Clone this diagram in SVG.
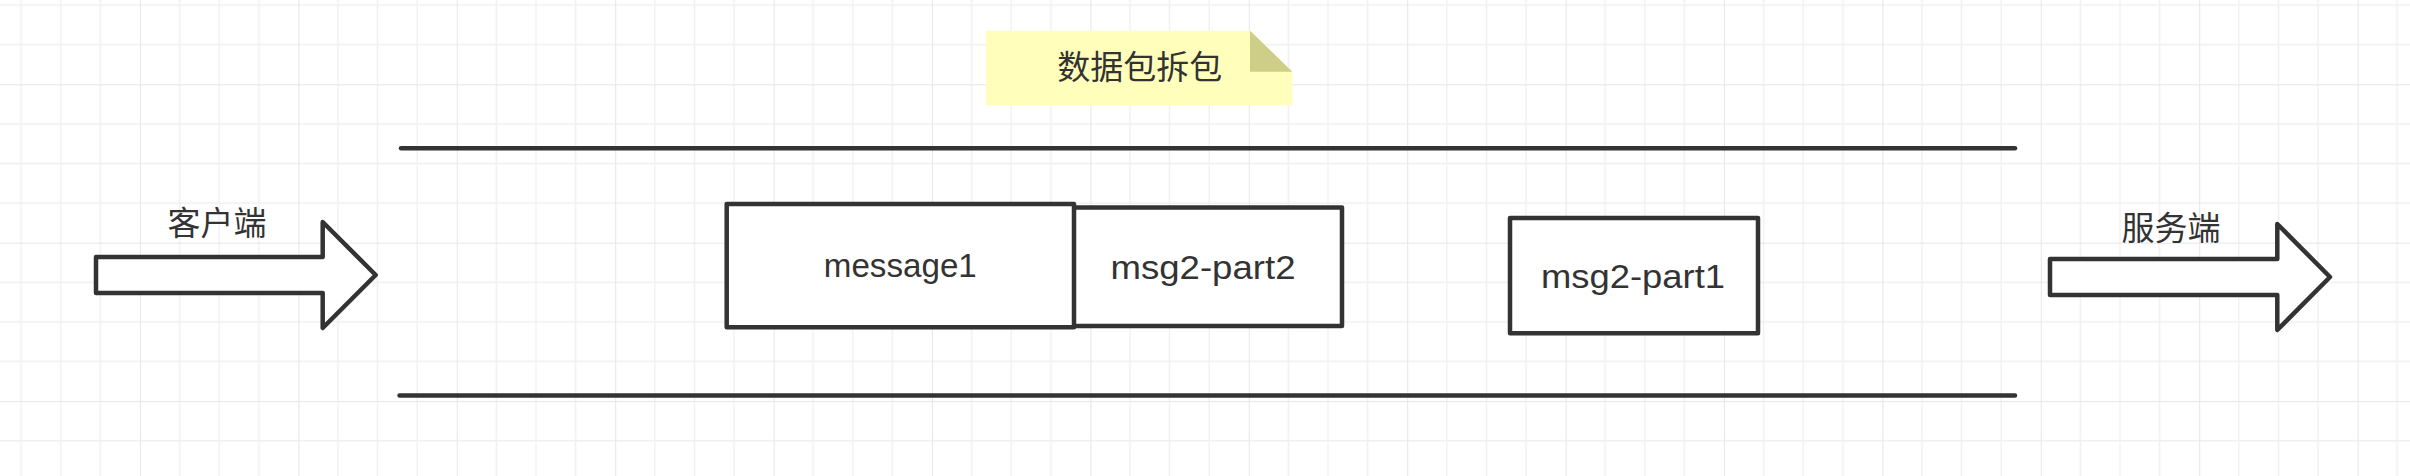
<svg xmlns="http://www.w3.org/2000/svg" width="2410" height="476" viewBox="0 0 2410 476">
  <style>
    .shape { fill: #ffffff; stroke: #333333; stroke-width: 4.5; stroke-linejoin: round; }
    .line { fill: none; stroke: #333333; stroke-width: 4.5; stroke-linecap: round; }
    .cjk { font-family: "Noto Sans CJK SC", "Noto Sans", sans-serif; font-size: 33px; fill: #333333; text-anchor: middle; }
    .lbl { font-family: "Liberation Sans", Arial, sans-serif; font-size: 33px; fill: #333333; text-anchor: middle; }
    .minor { stroke: #f0f0f0; stroke-width: 1.3; }
    .major { stroke: #e6e6e6; stroke-width: 2; }
  </style>
  <defs>
    <pattern id="grid" patternUnits="userSpaceOnUse" x="140" y="84.3" width="158.4" height="158.4">
      <rect width="158.4" height="158.4" fill="#ffffff"/>
      <path class="minor" d="M39.6,0V158.4M79.2,0V158.4M118.8,0V158.4M0,39.6H158.4M0,79.2H158.4M0,118.8H158.4"/>
      <path class="major" d="M0,0V158.4M0,0H158.4"/>
    </pattern>
  </defs>
  <rect id="background" x="0" y="0" width="2410" height="476" fill="url(#grid)"/>

  <g id="note">
    <path d="M986,30.7 H1250 L1292.3,71.7 V105.3 H986 Z" fill="#ffffbb"/>
    <path d="M1250,30.7 V71.7 H1292.3 Z" fill="#cece88"/>
    <text class="cjk" x="1139.7" y="78.5">数据包拆包</text>
  </g>

  <g id="connectors">
    <line class="line" x1="401" y1="148.3" x2="2015" y2="148.3"/>
    <line class="line" x1="399.5" y1="395.5" x2="2015" y2="395.5"/>
  </g>

  <g id="client">
    <path class="shape" d="M96,257 H322.7 V222 L375.7,275 L322.7,328 V293 H96 Z"/>
    <text class="cjk" x="217" y="235">客户端</text>
  </g>

  <g id="server">
    <path class="shape" d="M2050,259 H2277.3 V224 L2330,277 L2277.3,330 V295 H2050 Z"/>
    <text class="cjk" x="2171" y="239.5">服务端</text>
  </g>

  <g id="msg2-part2">
    <rect class="shape" x="1073.3" y="207.5" width="268.7" height="118.5"/>
    <text class="lbl" x="1203" y="278.5" textLength="185" lengthAdjust="spacingAndGlyphs">msg2-part2</text>
  </g>

  <g id="message1">
    <rect class="shape" x="726.7" y="204" width="347.3" height="123.3"/>
    <text class="lbl" x="900.3" y="276.7" textLength="153" lengthAdjust="spacingAndGlyphs">message1</text>
  </g>

  <g id="msg2-part1">
    <rect class="shape" x="1510" y="218" width="248" height="115.3"/>
    <text class="lbl" x="1633" y="287.5" textLength="184" lengthAdjust="spacingAndGlyphs">msg2-part1</text>
  </g>
</svg>
